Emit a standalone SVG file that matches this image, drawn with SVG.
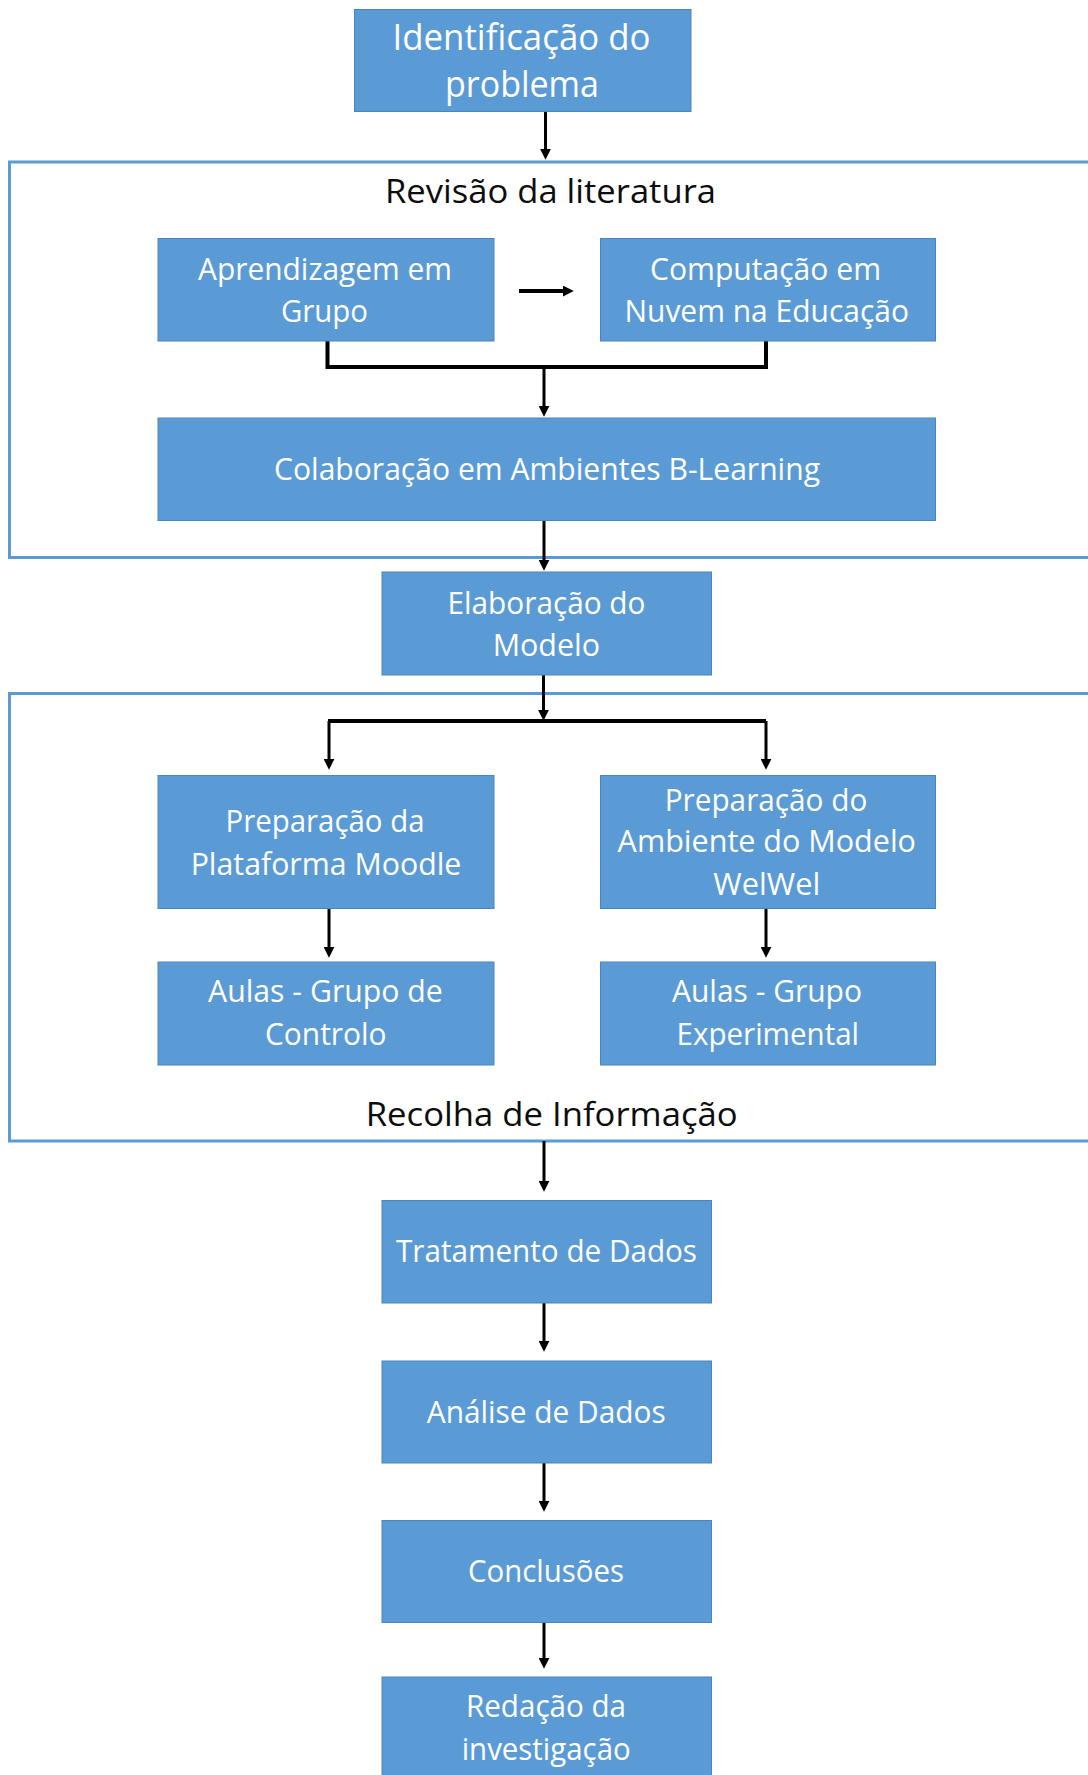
<svg xmlns="http://www.w3.org/2000/svg" width="1088" height="1775" viewBox="0 0 1088 1775">
  <style>
    .box { fill: #5b9bd5; stroke: #4a85bd; stroke-width: 1; }
    .frame { fill: none; stroke: #5b9bd5; stroke-width: 3; }
    .lbl { font-family: "Open Sans", "Liberation Sans", sans-serif; font-size: 31px; fill: #ffffff; text-anchor: middle; }
    .big { font-size: 37px; }
    .title { font-family: "Open Sans", "Liberation Sans", sans-serif; font-size: 32px; fill: #0d0d0d; text-anchor: middle; }
    .wire { fill: none; stroke: #000000; stroke-width: 3; }
    .thick { stroke-width: 4; }
    .arrow { marker-end: url(#ah); }
  </style>
  <defs>
    <marker id="ah" viewBox="0 0 10 10" refX="2" refY="5" markerWidth="11" markerHeight="11" markerUnits="userSpaceOnUse" orient="auto">
      <path d="M0,0 L10,5 L0,10 z" fill="#000000"/>
    </marker>
  </defs>

  <rect width="1088" height="1775" fill="#ffffff"/>

  <!-- section frames (open to the right) -->
  <g id="frame-revisao">
    <rect class="frame" x="9.5" y="162" width="1100" height="395.5"/>
    <text class="title" x="550.5" y="203" textLength="331" lengthAdjust="spacingAndGlyphs">Revisão da literatura</text>
  </g>
  <g id="frame-recolha">
    <rect class="frame" x="9.5" y="693.5" width="1100" height="447.5"/>
    <text class="title" x="551.7" y="1126" textLength="372" lengthAdjust="spacingAndGlyphs">Recolha de Informação</text>
  </g>

  <!-- connectors -->
  <g id="connectors">
    <line class="wire arrow" x1="545.5" y1="112" x2="545.5" y2="151"/>
    <line class="wire thick arrow" x1="519" y1="291" x2="565" y2="291"/>
    <path class="wire thick" d="M327.5,341 V367 H766 V341"/>
    <line class="wire arrow" x1="544" y1="367" x2="544" y2="408"/>
    <line class="wire arrow" x1="544" y1="521" x2="544" y2="562"/>
    <line class="wire arrow" x1="543.5" y1="675" x2="543.5" y2="712"/>
    <path class="wire thick" d="M328,721 H766"/>
    <line class="wire arrow" x1="329" y1="721" x2="329" y2="761"/>
    <line class="wire arrow" x1="766" y1="721" x2="766" y2="761"/>
    <line class="wire arrow" x1="329" y1="909" x2="329" y2="949"/>
    <line class="wire arrow" x1="766" y1="909" x2="766" y2="949"/>
    <line class="wire arrow" x1="544" y1="1141" x2="544" y2="1183"/>
    <line class="wire arrow" x1="544" y1="1303" x2="544" y2="1343"/>
    <line class="wire arrow" x1="544" y1="1463" x2="544" y2="1503"/>
    <line class="wire arrow" x1="544" y1="1623" x2="544" y2="1660"/>
  </g>

  <!-- nodes -->
  <g id="identificacao">
    <rect class="box" x="354.5" y="9.5" width="336.5" height="102"/>
    <text class="lbl big" x="521.5" y="50" textLength="258" lengthAdjust="spacingAndGlyphs">Identificação do</text>
    <text class="lbl big" x="522" y="97" textLength="154" lengthAdjust="spacingAndGlyphs">problema</text>
  </g>
  <g id="aprendizagem">
    <rect class="box" x="158" y="238.5" width="336" height="102.5"/>
    <text class="lbl" x="325" y="280" textLength="254" lengthAdjust="spacingAndGlyphs">Aprendizagem em</text>
    <text class="lbl" x="324.5" y="322" textLength="87" lengthAdjust="spacingAndGlyphs">Grupo</text>
  </g>
  <g id="computacao">
    <rect class="box" x="600.5" y="238.5" width="335" height="102.5"/>
    <text class="lbl" x="765.5" y="280" textLength="231" lengthAdjust="spacingAndGlyphs">Computação em</text>
    <text class="lbl" x="766.7" y="322" textLength="284.5" lengthAdjust="spacingAndGlyphs">Nuvem na Educação</text>
  </g>
  <g id="colaboracao">
    <rect class="box" x="158" y="418" width="777.5" height="102.5"/>
    <text class="lbl" x="547" y="480" textLength="546" lengthAdjust="spacingAndGlyphs">Colaboração em Ambientes B-Learning</text>
  </g>
  <g id="elaboracao">
    <rect class="box" x="382" y="572" width="329.5" height="103"/>
    <text class="lbl" x="546.5" y="614" textLength="198" lengthAdjust="spacingAndGlyphs">Elaboração do</text>
    <text class="lbl" x="546.4" y="656" textLength="107.5" lengthAdjust="spacingAndGlyphs">Modelo</text>
  </g>
  <g id="prep-moodle">
    <rect class="box" x="158" y="775.5" width="336" height="133"/>
    <text class="lbl" x="325" y="832" textLength="199" lengthAdjust="spacingAndGlyphs">Preparação da</text>
    <text class="lbl" x="326" y="874.5" textLength="270.7" lengthAdjust="spacingAndGlyphs">Plataforma Moodle</text>
  </g>
  <g id="prep-welwel">
    <rect class="box" x="600.5" y="775.5" width="335" height="133"/>
    <text class="lbl" x="766" y="811" textLength="202.6" lengthAdjust="spacingAndGlyphs">Preparação do</text>
    <text class="lbl" x="766.8" y="852" textLength="298.4" lengthAdjust="spacingAndGlyphs">Ambiente do Modelo</text>
    <text class="lbl" x="766.8" y="895" textLength="107" lengthAdjust="spacingAndGlyphs">WelWel</text>
  </g>
  <g id="aulas-controlo">
    <rect class="box" x="158" y="962" width="336" height="103"/>
    <text class="lbl" x="325.4" y="1002" textLength="234.6" lengthAdjust="spacingAndGlyphs">Aulas - Grupo de</text>
    <text class="lbl" x="325.8" y="1044.6" textLength="121.5" lengthAdjust="spacingAndGlyphs">Controlo</text>
  </g>
  <g id="aulas-experimental">
    <rect class="box" x="600.5" y="962" width="335" height="103"/>
    <text class="lbl" x="767" y="1002" textLength="190" lengthAdjust="spacingAndGlyphs">Aulas - Grupo</text>
    <text class="lbl" x="767.8" y="1044.6" textLength="182.5" lengthAdjust="spacingAndGlyphs">Experimental</text>
  </g>
  <g id="tratamento">
    <rect class="box" x="382" y="1200.5" width="329.5" height="102.5"/>
    <text class="lbl" x="546.5" y="1261.5" textLength="301" lengthAdjust="spacingAndGlyphs">Tratamento de Dados</text>
  </g>
  <g id="analise">
    <rect class="box" x="382" y="1361" width="329.5" height="102"/>
    <text class="lbl" x="546.3" y="1422.6" textLength="239" lengthAdjust="spacingAndGlyphs">Análise de Dados</text>
  </g>
  <g id="conclusoes">
    <rect class="box" x="382" y="1520.5" width="329.5" height="102"/>
    <text class="lbl" x="546" y="1582" textLength="156" lengthAdjust="spacingAndGlyphs">Conclusões</text>
  </g>
  <g id="redacao">
    <rect class="box" x="382" y="1677" width="329.5" height="120"/>
    <text class="lbl" x="546" y="1717" textLength="160" lengthAdjust="spacingAndGlyphs">Redação da</text>
    <text class="lbl" x="546.2" y="1759.5" textLength="169" lengthAdjust="spacingAndGlyphs">investigação</text>
  </g>
</svg>
